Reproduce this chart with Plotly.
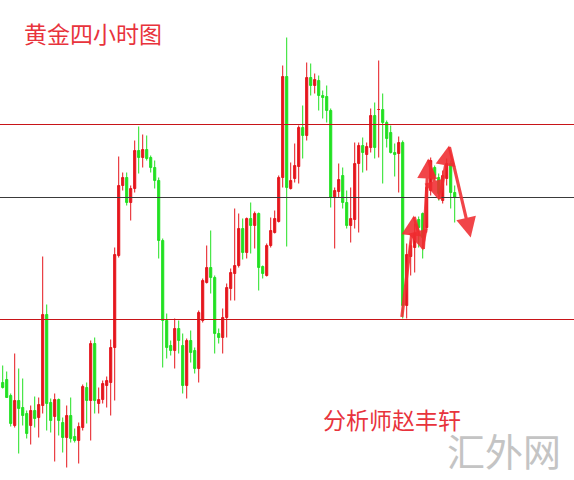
import plotly.graph_objects as go

# Price units (arbitrary scale, larger = higher)
# Each candle: open, high, low, close
opens = [98, 101, 85, 55, 80, 73, 67, 55, 70, 63, 75, 166, 78, 64, 81, 58, 43, 65, 44, 40,
         53, 93, 80, 137, 77, 81, 95, 98, 133, 225, 295, 303, 278, 292, 330, 323, 331, 323, 313, 300,
         240, 160, 135, 130, 152, 135, 95, 140, 130, 112, 160, 198, 213, 203, 147, 143, 163, 192, 207, 215,
         252, 228, 262, 255, 267, 214, 205, 235, 248, 259, 303, 404, 292, 302, 314, 353, 345, 403, 395, 400,
         385, 384, 370, 283, 289, 305, 278, 255, 261, 317, 335, 326, 333, 365, 371, 371, 358, 348, 328, 327,
         338, 175, 224, 233, 261, 267, 253, 290, 313, 303, 280, 302, 317, 288]
highs = [115, 109, 87, 127, 112, 102, 70, 75, 84, 83, 224, 176, 82, 87, 82, 63, 75, 83, 52, 58,
         96, 98, 140, 143, 93, 100, 104, 141, 233, 324, 308, 308, 295, 340, 354, 346, 345, 325, 320, 303,
         242, 167, 140, 162, 160, 147, 142, 150, 133, 170, 202, 235, 250, 205, 152, 172, 197, 212, 272, 267,
         262, 263, 278, 269, 268, 215, 237, 263, 270, 305, 415, 443, 318, 337, 355, 375, 418, 417, 407, 405,
         390, 395, 372, 293, 317, 313, 290, 293, 338, 338, 343, 338, 372, 378, 420, 387, 360, 355, 337, 344,
         340, 237, 240, 257, 264, 268, 297, 323, 315, 307, 310, 322, 320, 295]
lows = [92, 83, 54, 53, 27, 55, 42, 36, 53, 43, 67, 50, 48, 19, 45, 28, 13, 38, 38, 17,
        50, 57, 40, 67, 67, 77, 73, 65, 80, 223, 290, 275, 260, 288, 307, 313, 320, 308, 292, 222,
        113, 122, 125, 112, 127, 87, 82, 118, 107, 98, 158, 197, 187, 127, 137, 127, 143, 180, 180, 213,
        221, 222, 227, 232, 190, 202, 204, 233, 247, 258, 293, 234, 291, 298, 297, 322, 340, 385, 387, 370,
        362, 358, 273, 232, 283, 272, 252, 238, 252, 248, 308, 310, 328, 322, 323, 297, 333, 327, 304, 288,
        162, 162, 205, 208, 233, 222, 248, 285, 300, 280, 277, 295, 272, 258]
closes = [93, 83, 57, 80, 72, 65, 47, 70, 62, 76, 166, 77, 60, 81, 60, 43, 65, 42, 40, 54,
          94, 80, 137, 80, 81, 97, 100, 133, 226, 295, 303, 278, 292, 330, 323, 331, 322, 313, 300, 240,
          160, 133, 130, 152, 140, 95, 140, 128, 112, 168, 200, 213, 203, 147, 143, 163, 193, 208, 215, 252,
          228, 262, 255, 267, 213, 207, 235, 250, 262, 303, 404, 293, 300, 315, 353, 345, 403, 395, 401, 385,
          383, 370, 283, 290, 301, 278, 255, 262, 317, 335, 328, 334, 365, 333, 371, 358, 342, 328, 326, 338,
          175, 226, 235, 247, 253, 243, 293, 320, 305, 287, 305, 317, 288, 283]
candle_idx = list(range(len(opens)))

# Horizontal levels
upper_level = 356
middle_level = 283
lower_level = 161

# Hand-drawn forecast path (candle index, price)
path_x = [99.75, 102.8, 105.15, 106.4, 109.15, 111.6, 117.0]
path_y = [162, 265, 230, 322, 280, 335, 243]

title_text = "黄金四小时图"
author_text = "分析师赵丰轩"
watermark_text = "汇外网"

RED = "#e5161c"
GREEN = "#22e022"

fig = go.Figure()
fig.add_trace(go.Candlestick(
    x=candle_idx, open=opens, high=highs, low=lows, close=closes,
    increasing=dict(line=dict(color=RED, width=1), fillcolor=RED),
    decreasing=dict(line=dict(color=GREEN, width=1), fillcolor=GREEN),
    whiskerwidth=0, hoverinfo="skip", showlegend=False,
))

for lvl, col in [(upper_level, "#c81418"), (middle_level, "#3a3a3a"), (lower_level, "#c81418")]:
    fig.add_shape(type="line", xref="paper", x0=0, x1=1, yref="y", y0=lvl, y1=lvl,
                  line=dict(color=col, width=1))

for i in range(len(path_x) - 1):
    fig.add_annotation(x=path_x[i + 1], y=path_y[i + 1], ax=path_x[i], ay=path_y[i],
                       xref="x", yref="y", axref="x", ayref="y", text="",
                       showarrow=True, arrowhead=2, arrowsize=1.25, arrowwidth=3.2,
                       arrowcolor="rgba(240,44,48,0.88)")

fig.add_annotation(x=22 / 574, y=1 - 33 / 480, xref="paper", yref="paper", text=title_text,
                   showarrow=False, xanchor="left", yanchor="middle",
                   font=dict(family="Noto Sans CJK SC", size=23, color="#e8333c"))
fig.add_annotation(x=321 / 574, y=1 - 419 / 480, xref="paper", yref="paper", text=author_text,
                   showarrow=False, xanchor="left", yanchor="middle",
                   font=dict(family="Noto Sans CJK SC", size=23, color="#e8333c"))
fig.add_annotation(x=445 / 574, y=1 - 449 / 480, xref="paper", yref="paper", text=watermark_text,
                   showarrow=False, xanchor="left", yanchor="middle",
                   font=dict(family="Noto Sans CJK SC", size=38, color="#c4c4c4"))

fig.update_layout(
    width=574, height=480, margin=dict(l=0, r=0, t=0, b=0),
    paper_bgcolor="white", plot_bgcolor="white",
    xaxis=dict(range=[-0.675, 142.825], visible=False, rangeslider=dict(visible=False), fixedrange=True),
    yaxis=dict(range=[0.5, 480.5], visible=False, fixedrange=True),
    hovermode=False, boxgap=0.25,
)
fig.write_html("out.html", config={"displayModeBar": False},
               post_script="document.body.style.margin='0';document.body.style.overflow='hidden';")
